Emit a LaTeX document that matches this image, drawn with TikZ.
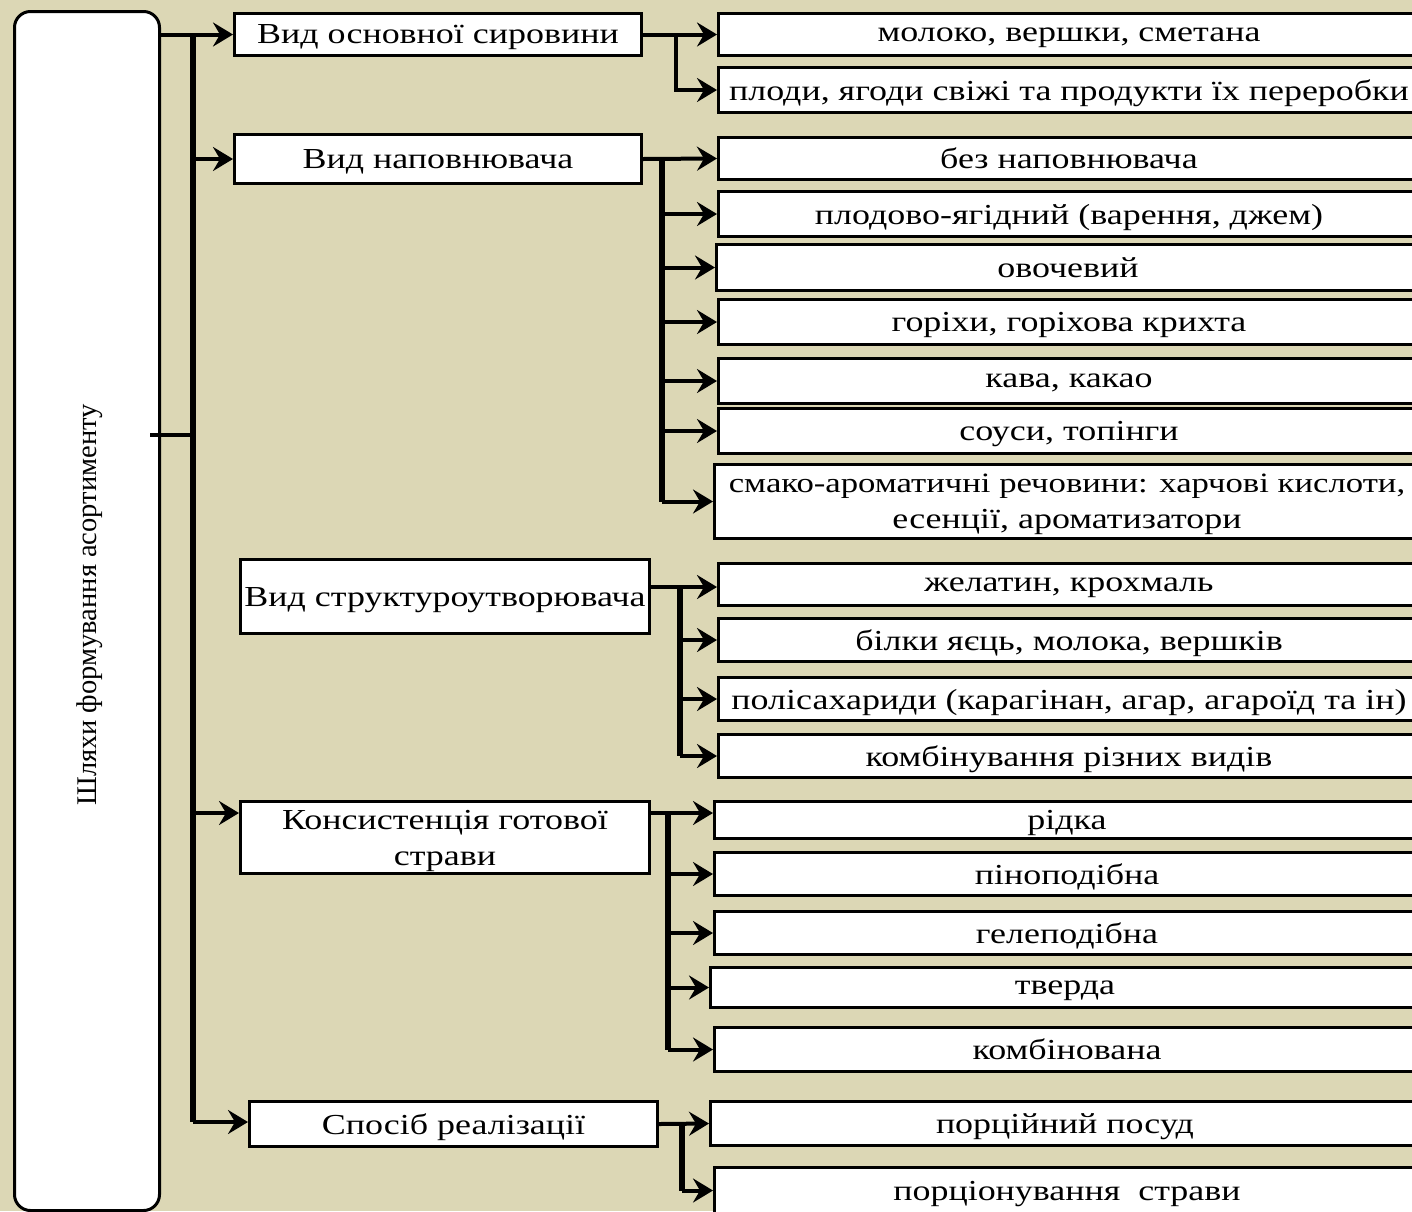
\documentclass[tikz,border=0pt]{standalone}
\usepackage{fontspec}
\setmainfont[FakeStretch=1.24]{Liberation Serif}
\newfontfamily\plainserif{Liberation Serif}
\usetikzlibrary{arrows.meta}
\definecolor{bgc}{HTML}{DCD7B5}
\tikzset{
  box/.style={draw=black, line width=3pt, fill=white, rectangle, inner sep=0pt, anchor=north west,
    font=\fontsize{29}{36}\selectfont, align=center, text depth=0pt},
  conn/.style={draw=black, line width=4pt},
  vline/.style={draw=black, line width=5.5pt},
  trunkline/.style={draw=black, line width=6.5pt},
  arr/.tip={Stealth[length=20pt,width=24pt,inset=7pt]},
}
\newcommand{\rbox}[5]{% name, left, top, bottom, text
  \pgfmathsetmacro{\bw}{1418-#2}\pgfmathsetmacro{\bh}{#4-#3}
  \node[box, minimum width=\bw pt, minimum height=\bh pt] (#1) at (#2,#3) {#5};}
\begin{document}
\begin{tikzpicture}[x=1pt,y=-1pt]
\useasboundingbox (0,0) rectangle (1412,1211);
\clip (0,0) rectangle (1412,1211);
\fill[bgc] (0,0) rectangle (1412,1211);
% main box
\node[draw=black, line width=3pt, fill=white, rounded corners=16pt, anchor=north west,
  minimum width=145pt, minimum height=1199pt, inner sep=0pt] (main) at (13,10) {};
\node[rotate=90, font=\plainserif\fontsize{28.5}{34}\selectfont] (maintext) at (90,605) {Шляхи формування асортименту};
% level 1
\node[box, minimum width=407pt, minimum height=42pt] (L1a) at (233,12) {Вид основної сировини};
\node[box, minimum width=407pt, minimum height=49pt] (L1b) at (233,133) {Вид наповнювача};
\node[box, minimum width=409pt, minimum height=74pt] (L1c) at (239,558) {Вид структуроутворювача};
\node[box, minimum width=409pt, minimum height=72pt] (L1d) at (239,800) {Консистенція готової\\страви};
\node[box, minimum width=408pt, minimum height=45pt] (L1e) at (248,1100) {Спосіб реалізації};
% right boxes
\rbox{R1}{717}{12}{54}{молоко, вершки, сметана}
\rbox{R2}{717}{66}{111}{плоди, ягоди свіжі та продукти їх переробки}
\rbox{R3}{717}{136}{178}{без наповнювача}
\rbox{R4}{717}{190}{235}{плодово-ягідний (варення, джем)}
\rbox{R5}{715}{243}{289}{овочевий}
\rbox{R6}{717}{298}{343}{горіхи, горіхова крихта}
\rbox{R7}{717}{357}{402}{кава, какао}
\rbox{R8}{717}{407}{452}{соуси, топінги}
\rbox{R9}{713}{463}{537}{{\fontsize{28}{36}\selectfont смако-ароматичні речовини: харчові кислоти,}\\есенції, ароматизатори}
\rbox{R10}{717}{562}{604}{желатин, крохмаль}
\rbox{R11}{717}{617}{660}{білки яєць, молока, вершків}
\rbox{R12}{717}{676}{719}{полісахариди (карагінан, агар, агароїд та ін)}
\rbox{R13}{717}{733}{776}{комбінування різних видів}
\rbox{R14}{713}{800}{837}{рідка}
\rbox{R15}{713}{851}{894}{піноподібна}
\rbox{R16}{713}{910}{953}{гелеподібна}
\rbox{R17}{709}{966}{1006}{тверда}
\rbox{R18}{713}{1026}{1070}{комбінована}
\rbox{R19}{709}{1100}{1144}{порційний посуд}
\rbox{R20}{713}{1166}{1212}{порціонування\ \ страви}
% trunk
\coordinate (tTop) at (193,33);
\coordinate (tBot) at (193,1122);
\coordinate (stub) at (150,435);
\coordinate (j4) at (193,813);
\draw[trunkline] (tTop) -- (tBot);
\draw[conn,-arr] (main.east |- L1a.west) -- (L1a.west);
\draw[conn,-arr] (tTop |- L1b.west) -- (L1b.west);
\draw[conn,-arr] (j4) -- (j4 -| L1d.west);
\draw[conn,-arr] (tBot) -- (tBot -| L1e.west);
\draw[conn] (stub) -- (tTop |- stub);
% group 1
\coordinate (b1) at (676,33);
\draw[conn,-arr] (L1a.east) -- (R1.west);
\draw[conn,-arr] (b1) |- (R2.west);
% group 2
\coordinate (b2) at (662,157);
\draw[conn,-arr] (L1b.east) -- (R3.west);
\draw[vline] (b2) -- (b2 |- R9.west);
\foreach \r in {R4,R5,R6,R7,R8,R9} \draw[conn,-arr] (b2 |- \r.west) -- (\r.west);
% group 3
\coordinate (c3) at (648,587);
\coordinate (b3) at (680,587);
\draw[conn,-arr] (c3) -- (c3 -| R10.west);
\draw[vline] (b3) -- (b3 |- R13.west);
\foreach \r in {R11,R12,R13} \draw[conn,-arr] (b3 |- \r.west) -- (\r.west);
% group 4
\coordinate (c4) at (648,813);
\coordinate (b4) at (668,813);
\draw[conn,-arr] (c4) -- (c4 -| R14.west);
\draw[vline] (b4) -- (b4 |- R18.west);
\foreach \r in {R15,R16,R17,R18} \draw[conn,-arr] (b4 |- \r.west) -- (\r.west);
% group 5
\coordinate (b5) at (682,1122);
\draw[conn,-arr] (L1e.east) -- (R19.west);
\draw[vline] (b5) -- (b5 |- R20.west);
\draw[conn,-arr] (b5 |- R20.west) -- (R20.west);
\end{tikzpicture}
\end{document}
